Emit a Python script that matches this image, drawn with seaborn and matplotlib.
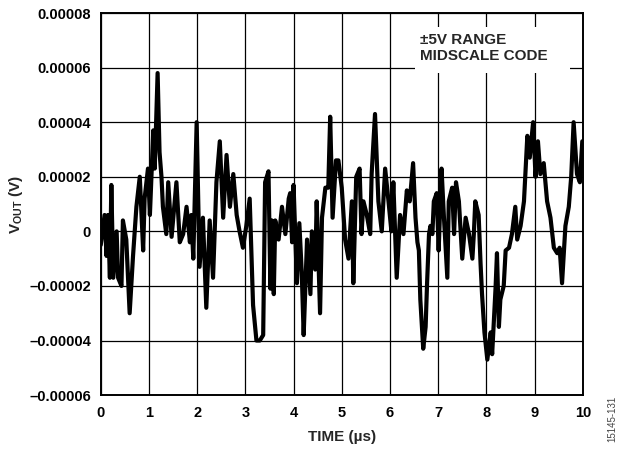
import numpy as np
import pandas as pd
import matplotlib
matplotlib.use("Agg")
import matplotlib.pyplot as plt
from matplotlib.patches import Rectangle
import seaborn as sns

# trace: time in µs, output in µV
time_us = [
    0.00, 0.08, 0.12, 0.15, 0.19, 0.22, 0.26, 0.33, 0.36, 0.43, 0.46, 0.53,
    0.60, 0.67, 0.74, 0.81, 0.88, 0.91, 0.98, 1.02, 1.09, 1.12, 1.18, 1.22,
    1.26, 1.29, 1.36, 1.40, 1.47, 1.57, 1.64, 1.71, 1.78, 1.85, 1.88, 1.92,
    1.99, 2.05, 2.12, 2.19, 2.26, 2.33, 2.40, 2.47, 2.54, 2.61, 2.68, 2.75,
    2.82, 2.88, 2.95, 3.02, 3.09, 3.16, 3.23, 3.30, 3.37, 3.41, 3.48, 3.52,
    3.55, 3.59, 3.62, 3.69, 3.76, 3.83, 3.90, 3.93, 3.97, 4.00, 4.07, 4.12,
    4.17, 4.21, 4.28, 4.35, 4.38, 4.45, 4.48, 4.55, 4.59, 4.66, 4.72, 4.76,
    4.81, 4.88, 4.93, 5.00, 5.07, 5.14, 5.21, 5.24, 5.30, 5.37, 5.41, 5.45,
    5.52, 5.59, 5.62, 5.69, 5.76, 5.83, 5.90, 5.97, 6.03, 6.07, 6.14, 6.21,
    6.28, 6.35, 6.41, 6.48, 6.53, 6.57, 6.60, 6.63, 6.69, 6.74, 6.77, 6.81,
    6.84, 6.88, 6.91, 6.97, 7.01, 7.07, 7.12, 7.19, 7.22, 7.29, 7.33, 7.37,
    7.43, 7.50, 7.57, 7.64, 7.71, 7.74, 7.77, 7.84, 7.88, 7.91, 7.96, 8.02,
    8.09, 8.12, 8.19, 8.22, 8.26, 8.29, 8.36, 8.40, 8.47, 8.53, 8.60, 8.64,
    8.71, 8.78, 8.85, 8.90, 8.97, 9.02, 9.07, 9.12, 9.19, 9.26, 9.33, 9.40,
    9.47, 9.52, 9.57, 9.64, 9.71, 9.76, 9.81, 9.88, 9.94, 9.99,
]
vout_uv = [
    -5, 6, -9, 6, -17, 17, -17, 0, -17, -20, 4, -3,
    -30, -9, 9, 20, -7, 12, 23, 6, 37, 23, 58, 29,
    20, 9, -1, 18, -2, 18, -4, -1, 9, -4, 6, -10,
    40, -13, 5, -28, 4, -17, 18, 33, 5, 28, 9, 21,
    6, 0, -6, 2, 12, -27, -40, -40, -38, 18, 22, -21,
    4, -23, 4, -3, 9, -1, 12, 14, -4, 17, -19, 3,
    -15, -38, -3, -23, 0, -14, 11, -30, 5, 16, 16, 42,
    5, 26, 26, 16, -3, -10, 11, -19, 20, 23, -1, 11,
    6, -1, 21, 43, 11, 0, 23, 11, 0, 18, -17, 6,
    -1, 15, 11, 25, 5, -4, -7, -25, -43, -35, -19, -1,
    2, -1, 11, 14, -7, 23, 5, -17, 11, 16, -1, 18,
    11, -10, 5, -1, -10, -1, 11, 6, -12, -23, -37, -47,
    -37, -45, -21, -8, -35, -25, -20, -7, -6, -1, 9, -3,
    2, 11, 35, 27, 40, 20, 33, 21, 25, 11, 5, -6,
    -8, -6, -19, 2, 9, 20, 40, 21, 18, 33,
]

x_ticks = [0, 1, 2, 3, 4, 5, 6, 7, 8, 9, 10]
y_ticks = [0.00008, 0.00006, 0.00004, 0.00002, 0, -0.00002, -0.00004, -0.00006]
y_tick_labels = ["0.00008", "0.00006", "0.00004", "0.00002", "0",
                 "\u20130.00002", "\u20130.00004", "\u20130.00006"]

df = pd.DataFrame({"t": time_us, "v": np.array(vout_uv) * 1e-6})

sns.set_theme(style="white")
plt.rcParams["font.family"] = ["Liberation Sans", "DejaVu Sans"]
plt.rcParams["mathtext.fontset"] = "custom"
plt.rcParams["mathtext.rm"] = "Liberation Sans:bold"
plt.rcParams["mathtext.default"] = "rm"

fig = plt.figure(figsize=(6.18, 4.49), dpi=100)
ax = fig.add_axes([0.163, 0.120, 0.780, 0.851])

sns.lineplot(data=df, x="t", y="v", ax=ax, color="black", linewidth=3.0,
             sort=False, estimator=None, zorder=2)

ax.set_xlim(0, 10)
ax.set_ylim(-0.00006, 0.00008)
ax.set_xticks(x_ticks)
ax.set_xticklabels([str(t) for t in x_ticks], fontweight="bold", fontsize=10.5)
ax.set_yticks(y_ticks)
ax.set_yticklabels(y_tick_labels, fontweight="bold", fontsize=10.5)
ax.tick_params(axis="x", length=0, pad=8, colors="black")
ax.tick_params(axis="y", length=0, pad=7, colors="black")

ax.grid(True, color="black", linewidth=0.9)
ax.set_axisbelow(True)
for s in ax.spines.values():
    s.set_color("black")
    s.set_linewidth(1.4)

ax.set_xlabel("TIME (\u00b5s)", fontweight="bold", fontsize=11)
ax.xaxis.set_label_coords(0.5, -0.09)
ax.set_ylabel("V$_{OUT}$ (V)", fontweight="bold", fontsize=11)
ax.yaxis.set_label_coords(-0.158, 0.5)

# white panel behind the legend text, covering the grid
ax.add_patch(Rectangle((0.651, 0.843), 0.322, 0.12, transform=ax.transAxes,
                       facecolor="white", edgecolor="none", zorder=2.5))
ax.text(0.662, 0.948, "\u00b15V RANGE\nMIDSCALE CODE", transform=ax.transAxes,
        fontweight="bold", fontsize=11, va="top", ha="left",
        linespacing=1.2, zorder=3)

fig.text(612 / 618, 1 - 419 / 449, "15145-131", rotation=90, fontsize=7,
         color="#444444", ha="center", va="center")

fig.savefig("out.png", dpi=100)
